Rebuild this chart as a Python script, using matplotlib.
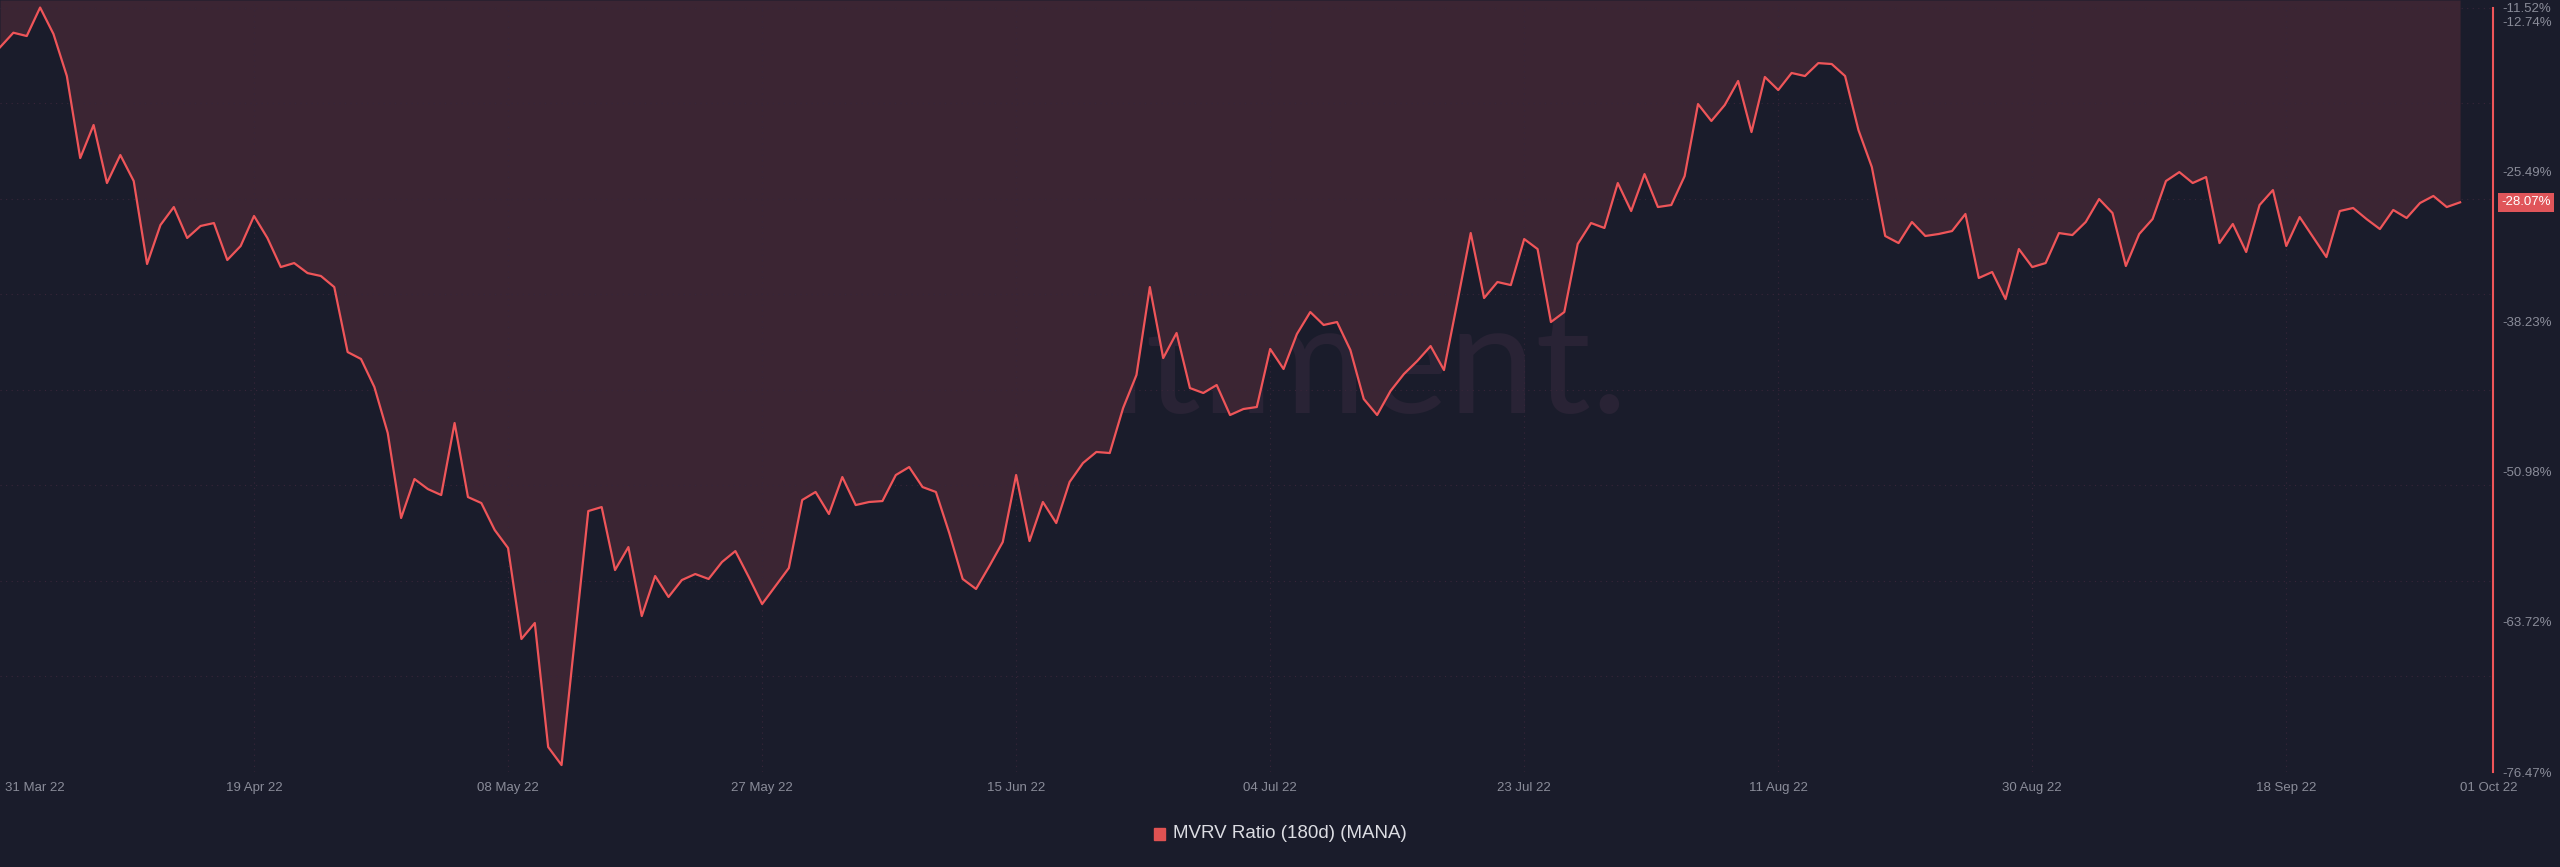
import pandas as pd
import matplotlib
matplotlib.use('Agg')
import matplotlib.pyplot as plt
import matplotlib.transforms as mtrans
from matplotlib.patches import Rectangle

# MVRV ratio (180d) of MANA, daily, in percent
dates = pd.date_range('2022-03-31', '2022-10-01', freq='D')
mvrv = [
    -14.90, -13.66, -13.94, -11.52, -13.77, -17.34, -24.31, -21.50, -26.43, -24.05,
    -26.26, -33.31, -30.00, -28.47, -31.10, -30.08, -29.83, -32.97, -31.78, -29.23,
    -31.10, -33.57, -33.23, -34.08, -34.33, -35.27, -40.79, -41.38, -43.76, -47.67,
    -54.89, -51.58, -52.43, -52.94, -46.82, -53.11, -53.62, -55.91, -57.44, -65.17,
    -63.81, -74.35, -75.88, -65.09, -54.30, -53.96, -59.31, -57.36, -63.22, -59.82,
    -61.60, -60.16, -59.65, -60.07, -58.63, -57.70, -59.90, -62.20, -60.67, -59.14,
    -53.36, -52.68, -54.55, -51.41, -53.79, -53.53, -53.45, -51.24, -50.56, -52.26,
    -52.68, -56.17, -60.07, -60.92, -58.97, -56.93, -51.24, -56.85, -53.53, -55.32,
    -51.83, -50.22, -49.28, -49.37, -45.55, -42.74, -35.27, -41.30, -39.17, -43.85,
    -44.27, -43.59, -46.14, -45.63, -45.46, -40.53, -42.23, -39.26, -37.39, -38.49,
    -38.24, -40.62, -44.78, -46.14, -44.10, -42.66, -41.55, -40.28, -42.32, -36.54,
    -30.68, -36.20, -34.84, -35.10, -31.19, -32.04, -38.24, -37.39, -31.61, -29.83,
    -30.25, -26.43, -28.81, -25.67, -28.47, -28.30, -25.84, -19.72, -21.16, -19.80,
    -17.76, -22.10, -17.42, -18.53, -17.08, -17.34, -16.24, -16.32, -17.34, -21.93,
    -25.07, -30.93, -31.53, -29.74, -30.93, -30.76, -30.51, -29.06, -34.50, -33.99,
    -36.29, -32.04, -33.57, -33.23, -30.68, -30.85, -29.74, -27.79, -28.98, -33.48,
    -30.76, -29.49, -26.26, -25.50, -26.43, -25.92, -31.53, -29.91, -32.29, -28.30,
    -27.03, -31.78, -29.32, -31.02, -32.72, -28.81, -28.55, -29.49, -30.34, -28.72,
    -29.40, -28.13, -27.53, -28.47, -28.07,
]

tick_dates = pd.to_datetime(['2022-03-31', '2022-04-19', '2022-05-08', '2022-05-27',
                             '2022-06-15', '2022-07-04', '2022-07-23', '2022-08-11',
                             '2022-08-30', '2022-09-18', '2022-10-01'])
tick_labels = ['31 Mar 22', '19 Apr 22', '08 May 22', '27 May 22', '15 Jun 22', '04 Jul 22',
               '23 Jul 22', '11 Aug 22', '30 Aug 22', '18 Sep 22', '01 Oct 22']
y_ticks = [-11.52, -12.74, -25.49, -38.23, -50.98, -63.72, -76.47]
last_value = -28.07

BG = '#1a1c2b'
MAROON = '#3b2533'
RED = '#ef5559'
GREY = '#8a8c99'
GRID = '#38263a'

ymin, ymax = -76.47, -10.88
xmax = dates[0] + pd.Timedelta(days=186.46)

fig = plt.figure(figsize=(25.6, 8.67), dpi=100, facecolor=BG)
ax = fig.add_axes([0, 95 / 867, 2493 / 2560, 772 / 867])
ax.set_facecolor(BG)
for s in ax.spines.values():
    s.set_visible(False)

ax.set_xlim(dates[0], xmax)
ax.set_ylim(ymin, ymax)

# faint watermark, hidden by the fill above the line
ax.text(0.51, 0.465, 'santiment.', transform=ax.transAxes, fontsize=112,
        family='Lato', color='#292335', ha='center', va='baseline', zorder=0)

ax.fill_between(dates, mvrv, ymax, color=MAROON, lw=0, zorder=1)

step = (y_ticks[0] - ymin) / 8
for k in range(9):
    ax.axhline(ymin + k * step, color=GRID, ls=(0, (1, 4)), lw=0.8, zorder=2)
for d in tick_dates[1:-1]:
    ax.axvline(d, color=GRID, ls=(0, (1, 4)), lw=0.8, zorder=2)

ax.plot(dates, mvrv, color=RED, lw=1.6, zorder=3)
ax.plot([xmax, xmax], [ymin, y_ticks[0]], color=RED, lw=1.5, clip_on=False, zorder=4)

ax.yaxis.tick_right()
ax.set_yticks(y_ticks)
ax.set_yticklabels([f'{v:.2f}%' for v in y_ticks])
ax.tick_params(axis='y', length=0, pad=6.5, labelsize=9.5, labelcolor=GREY)
for lab in ax.get_yticklabels():
    lab.set_family('Liberation Sans')

ax.set_xticks(tick_dates)
ax.set_xticklabels(tick_labels)
ax.tick_params(axis='x', length=0, pad=7, labelsize=9.5, labelcolor=GREY)
xl = ax.get_xticklabels()
for lab in xl:
    lab.set_family('Liberation Sans')
xl[0].set_ha('left')
xl[0].set_transform(xl[0].get_transform() + mtrans.ScaledTranslation(0.05, 0, fig.dpi_scale_trans))
xl[-1].set_ha('left')

trans = mtrans.blended_transform_factory(ax.transAxes, ax.transData)
ax.text(1.0 + 8 / 2493, last_value, f'{last_value:.2f}%', transform=trans, ha='left', va='center',
        color='white', fontsize=9.5, family='Liberation Sans', zorder=5,
        bbox=dict(boxstyle='square,pad=0.25', fc='#e0555a', ec='none'))

# legend
fig.patches.append(Rectangle((1154 / 2560, (867 - 840) / 867), 11 / 2560, 12 / 867,
                             transform=fig.transFigure, color='#e05252'))
fig.text(1173 / 2560, (867 - 834) / 867, 'MVRV Ratio (180d) (MANA)', ha='left', va='center',
         fontsize=13.5, color='#dcdde3', family='Liberation Sans')

fig.savefig('out.png', dpi=100, facecolor=BG)
